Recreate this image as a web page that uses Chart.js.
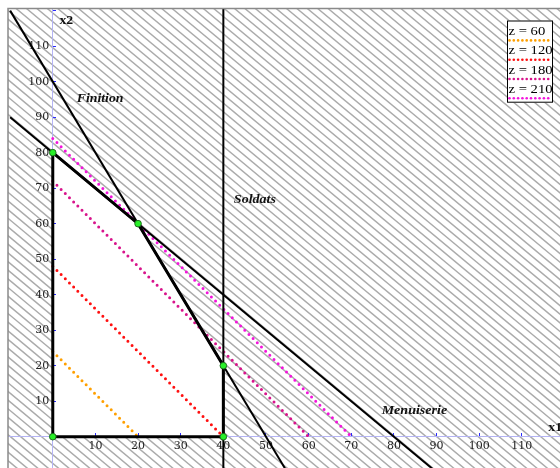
<!DOCTYPE html>
<html><head><meta charset="utf-8">
<script src="https://cdn.jsdelivr.net/npm/chart.js@4.4.1/dist/chart.umd.min.js"></script>
<style>
html,body{margin:0;padding:0;overflow:hidden;background:#fff;width:560px;height:468px;}
#wrap{position:absolute;left:0;top:0;width:576px;height:484px;}
</style></head><body>
<div id="wrap"><canvas id="c"></canvas></div>
<script>
// ---- data ----
const feasibleX = [0, 0, 20, 40, 40];
const feasibleY = [0, 80, 60, 20, 0];
const finitionX = [-10, 55];
const finitionY = [120, -10];
const menuiserieX = [-10, 90];
const menuiserieY = [90, -10];
const soldatsX = [40, 40];
const soldatsY = [-10, 121];
const zValues = [60, 120, 180, 210];
const zInterceptX = [20, 40, 60, 70];   // where each iso-z line meets x2 = 0
const zInterceptY = [24, 48, 72, 84];   // where each iso-z line meets x1 = 0
const xTickValues = [10, 20, 30, 40, 50, 60, 70, 80, 90, 100, 110];
const xTickLabels = ['10','20','30','40','50','60','70','80','90','100','110'];
const yTickValues = [10, 20, 30, 40, 50, 60, 70, 80, 90, 100, 110, 120];
const yTickLabels = ['10','20','30','40','50','60','70','80','90','100','110',''];
const xRange = [-10.5, 120];
const yRange = [-10, 120.6];

// ---- styles ----
const zColors = ['#ffa000', '#ff1010', '#d8148c', '#f414dc'];
const SERIF = '"Liberation Serif", "Times New Roman", serif';

function pts(xs, ys) { return xs.map((x, i) => ({x: x, y: ys[i]})); }

let hatchCache = null;
function hatchPattern(chart) {
  const xs = chart.scales.x, ys = chart.scales.y;
  if (!xs || !ys) return 'transparent';
  const w = chart.width + 40, h = chart.height + 40;
  const slope = (ys.getPixelForValue(0) - ys.getPixelForValue(10)) / (xs.getPixelForValue(10) - xs.getPixelForValue(0));
  const key = w + 'x' + h + ':' + slope.toFixed(4);
  if (hatchCache && hatchCache.key === key) return hatchCache.pat;
  const c = document.createElement('canvas');
  c.width = w; c.height = h;
  const g = c.getContext('2d');
  g.strokeStyle = '#ababab';
  g.lineWidth = 1.5;
  const run = h / slope;
  for (let x0 = -run - 20; x0 < w + 20; x0 += 10.4) {
    g.beginPath(); g.moveTo(x0, 0); g.lineTo(x0 + run, h); g.stroke();
  }
  const pat = chart.ctx.createPattern(c, 'no-repeat');
  hatchCache = {key: key, pat: pat};
  return pat;
}

const datasets = [];
datasets.push({
  label: 'sommets', data: pts(feasibleX, feasibleY), showLine: false,
  pointRadius: 3.3, pointBackgroundColor: '#28f028', pointBorderColor: '#1c6e1c', pointBorderWidth: 1, order: 0
});
datasets.push({
  label: 'region', data: pts(feasibleX.concat([feasibleX[0]]), feasibleY.concat([feasibleY[0]])),
  borderColor: '#000', borderWidth: 3, pointRadius: 0, fill: 'shape', backgroundColor: '#ffffff', order: 1
});
[[finitionX, finitionY, 'Finition'], [menuiserieX, menuiserieY, 'Menuiserie'], [soldatsX, soldatsY, 'Soldats']].forEach(c => {
  datasets.push({label: c[2], data: pts(c[0], c[1]), borderColor: '#000', borderWidth: 2, pointRadius: 0, fill: false, order: 2});
});
zValues.forEach((z, i) => {
  datasets.push({
    label: 'z = ' + z, data: [{x: 0, y: zInterceptY[i]}, {x: zInterceptX[i], y: 0}],
    borderColor: zColors[i], borderWidth: 3, borderDash: [0, 5.9], borderCapStyle: 'round',
    pointRadius: 0, fill: false, order: 3
  });
});
datasets.push({
  label: 'hatch', data: pts([xRange[0], xRange[1], xRange[1], xRange[0], xRange[0]], [yRange[0], yRange[0], yRange[1], yRange[1], yRange[0]]),
  borderColor: 'transparent', borderWidth: 0, pointRadius: 0, fill: 'shape',
  backgroundColor: (ctx) => hatchPattern(ctx.chart), order: 9
});

const annotations = [
  {text: 'Finition', x: 11.1, y: 95.1, font: 'italic bold 12px ' + SERIF, align: 'center', sx: 1.15},
  {text: 'Soldats', x: 47.4, y: 66.7, font: 'italic bold 12px ' + SERIF, align: 'center', sx: 1.17},
  {text: 'Menuiserie', x: 84.8, y: 7.3, font: 'italic bold 12px ' + SERIF, align: 'center', sx: 1.17},
  {text: 'x1', x: 116.2, y: 2.4, font: 'bold 12px ' + SERIF, align: 'left', sx: 1.15},
  {text: 'x2', x: 1.55, y: 117.1, font: 'bold 12px ' + SERIF, align: 'left', sx: 1.15}
];

const framePlugin = {
  id: 'frame',
  afterDatasetsDraw(chart) {
    const a = chart.chartArea, ctx = chart.ctx;
    ctx.save(); ctx.strokeStyle = '#8a8a8a'; ctx.lineWidth = 1.5;
    ctx.strokeRect(a.left, a.top, a.right - a.left, a.bottom - a.top);
    ctx.restore();
  }
};

const textPlugin = {
  id: 'texts',
  afterDraw(chart) {
    const ctx = chart.ctx, xs = chart.scales.x, ys = chart.scales.y;
    annotations.forEach(an => {
      ctx.save();
      ctx.translate(xs.getPixelForValue(an.x), ys.getPixelForValue(an.y));
      ctx.scale(an.sx, 1);
      ctx.font = an.font; ctx.fillStyle = '#111';
      ctx.textAlign = an.align; ctx.textBaseline = 'middle';
      ctx.fillText(an.text, 0, 0);
      ctx.restore();
    });
    // legend
    const L = {left: 507, top: 20.5, right: 553, bottom: 102.7, row: 19.3};
    ctx.save();
    ctx.fillStyle = '#fff';
    ctx.fillRect(L.left, L.top, L.right - L.left, L.bottom - L.top);
    ctx.strokeStyle = '#000'; ctx.lineWidth = 1;
    ctx.strokeRect(L.left + 0.5, L.top + 0.5, L.right - L.left - 1, L.bottom - L.top - 1);
    zValues.forEach((z, i) => {
      const ty = L.top + 11.5 + i * L.row;
      ctx.save();
      ctx.translate(L.left + 1.5, ty);
      ctx.scale(1.22, 1);
      ctx.font = '12px ' + SERIF; ctx.fillStyle = '#000';
      ctx.textAlign = 'left'; ctx.textBaseline = 'middle';
      ctx.fillText('z = ' + z, 0, 0);
      ctx.restore();
      ctx.fillStyle = zColors[i];
      for (let dx = L.left + 2.5; dx < L.right - 1; dx += 4.3) {
        ctx.beginPath(); ctx.arc(dx, ty + 8.4, 1.3, 0, Math.PI * 2); ctx.fill();
      }
    });
    ctx.restore();
  }
};

const tickFont = {family: '"DejaVu Serif", serif', size: 11};
new Chart(document.getElementById('c'), {
  type: 'line',
  data: {datasets: datasets},
  options: {
    responsive: true, maintainAspectRatio: false, animation: false,
    layout: {padding: {left: 8, top: 8.5, right: 576 - 564.5, bottom: 484 - 472.2}},
    plugins: {legend: {display: false}, tooltip: {enabled: false}, filler: {drawTime: 'beforeDraw'}},
    scales: {
      x: {
        type: 'linear', min: xRange[0], max: xRange[1], position: {y: 0},
        afterBuildTicks: s => { s.ticks = xTickValues.map(v => ({value: v})); },
        ticks: {callback: (v) => { const i = xTickValues.indexOf(v); return i < 0 ? null : xTickLabels[i]; },
                font: tickFont, color: '#222', padding: 7, maxRotation: 0, autoSkip: false},
        grid: {drawOnChartArea: false, tickLength: -4, tickColor: '#2a2aff', tickWidth: 1},
        border: {color: '#b4b4f4', width: 1}
      },
      y: {
        type: 'linear', min: yRange[0], max: yRange[1], position: {x: 0},
        afterBuildTicks: s => { s.ticks = yTickValues.map(v => ({value: v})); },
        ticks: {callback: (v) => { const i = yTickValues.indexOf(v); return i < 0 ? null : (yTickLabels[i] ? yTickLabels[i] + ' ' : ''); },
                font: tickFont, color: '#222', padding: 0, autoSkip: false},
        grid: {drawOnChartArea: false, tickLength: -4, tickColor: '#2a2aff', tickWidth: 1},
        border: {color: '#b4b4f4', width: 1}
      }
    }
  },
  plugins: [framePlugin, textPlugin]
});
</script>
</body></html>
